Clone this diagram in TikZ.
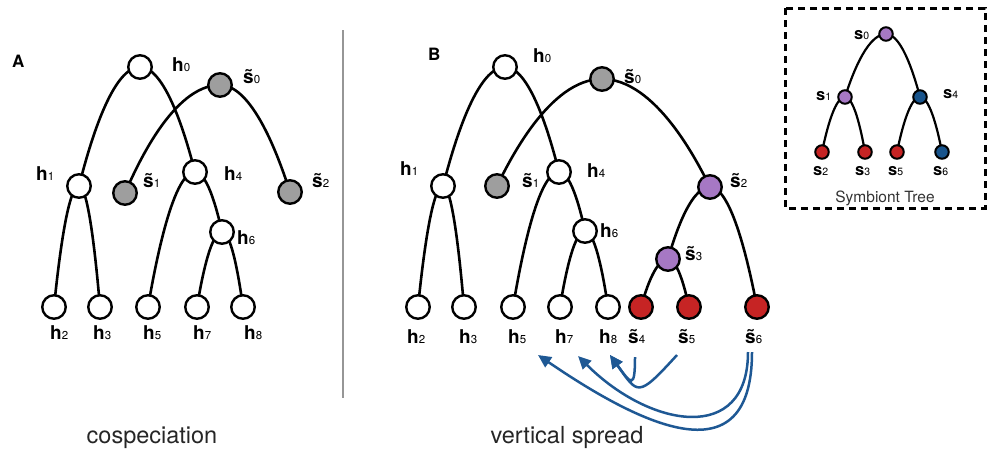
\documentclass[tikz,border=0pt]{standalone}
\usepackage{fontspec}
\setmainfont{TeX Gyre Heros}
\usetikzlibrary{arrows.meta,backgrounds}
\definecolor{nodegray}{RGB}{158,158,158}
\definecolor{sympurple}{RGB}{166,120,196}
\definecolor{symred}{RGB}{198,36,36}
\definecolor{symblue}{RGB}{24,84,140}
\definecolor{spreadblue}{RGB}{30,88,148}
\definecolor{rulegray}{RGB}{150,150,150}
\newcommand{\lbl}[2]{\textbf{#1}{\fontsize{11.5}{11.5}\selectfont #2}}
\newcommand{\tlbl}[2]{\textbf{\~{#1}}{\fontsize{11.5}{11.5}\selectfont #2}}
\newcommand{\ilbl}[2]{\textbf{#1}{\fontsize{10.5}{10.5}\selectfont #2}}

\begin{document}
\begin{tikzpicture}[x=1pt,y=-1pt,
		host/.style={circle,draw,line width=2.4pt,fill=white,minimum size=23.5pt,inner sep=0pt},
		sym/.style={host,fill=#1},
		tipnode/.style={circle,draw,line width=2pt,fill=#1,minimum size=13.5pt,inner sep=0pt},
		lab/.style={anchor=base west,inner sep=0pt,font=\fontsize{19}{19}\selectfont},
		ilab/.style={anchor=base west,inner sep=0pt,font=\fontsize{16.5}{16.5}\selectfont},
		caption/.style={inner sep=0pt,font=\fontsize{23.5}{23.5}\selectfont,text=black!85},
		branch/.style={line width=2.6pt},
		spread/.style={draw=spreadblue,line width=2.5pt,-{Triangle[length=13pt,width=12pt]}}]
	\useasboundingbox (0,0) rectangle (988,451);
	% panel A: cospeciation
	\node[lab,font=\fontsize{17}{17}\selectfont] (lA) at (12,67) {\textbf{A}};
	\node[host] (hA0) at (140,67) {};
	\node[host] (hA1) at (79,186) {};
	\node[host] (hA4) at (195,172) {};
	\node[host] (hA6) at (222,232) {};
	\foreach \n/\x in {2/54,3/100,5/148,7/197,8/243}
		\node[host] (hA\n) at (\x,307) {};
	\node[sym=nodegray] (sA0) at (220,85) {};
	\node[sym=nodegray] (sA1) at (125,193) {};
	\node[sym=nodegray] (sA2) at (290,192) {};
	\node[lab] (lhA0) at (172,71) {\lbl{h}{0}};
	\node[lab] (lhA1) at (36,180) {\lbl{h}{1}};
	\node[lab] (lhA4) at (224,180) {\lbl{h}{4}};
	\node[lab] (lhA6) at (237,244) {\lbl{h}{6}};
	\foreach \n/\x in {2/50,3/93,5/143,7/193,8/244}
		\node[lab] (lhA\n) at (\x,339) {\lbl{h}{\n}};
	\node[lab] (lsA0) at (243,83) {\tlbl{s}{0}};
	\node[lab] (lsA1) at (143,187) {\tlbl{s}{1}};
	\node[lab] (lsA2) at (312,187) {\tlbl{s}{2}};
	\begin{scope}[on background layer]
		\draw[branch] (hA1.center) parabola bend (hA0.center) (hA4.center)
			(hA2.center) parabola bend (hA1.center) (hA3.center)
			(hA5.center) parabola bend (hA4.center) (hA6.center)
			(hA7.center) parabola bend (hA6.center) (hA8.center)
			(sA1.center) parabola bend (sA0.center) (sA2.center);
	\end{scope}
	\node[caption,anchor=base] (capA) at (152,443) {cospeciation};

	\draw[rulegray,line width=2pt] (343,30) -- (343,398);

	% panel B: vertical spread
	\node[lab,font=\fontsize{17}{17}\selectfont] (lB) at (428,60) {\textbf{B}};
	\node[host] (hB0) at (505,67) {};
	\node[host] (hB1) at (443,186) {};
	\node[host] (hB4) at (559,172) {};
	\node[host] (hB6) at (585,231) {};
	\foreach \n/\x in {2/418,3/464,5/513,7/560,8/608}
		\node[host] (hB\n) at (\x,307) {};
	\node[sym=nodegray] (sB0) at (602,79) {};
	\node[sym=nodegray] (sB1) at (497,186) {};
	\node[sym=sympurple] (sB2) at (710,187) {};
	\node[sym=sympurple] (sB3) at (668,259) {};
	\foreach \n/\x in {4/641,5/689,6/757}
		\node[sym=symred] (sB\n) at (\x,307) {};
	\node[lab] (lhB0) at (533,62) {\lbl{h}{0}};
	\node[lab] (lhB1) at (400,175) {\lbl{h}{1}};
	\node[lab] (lhB4) at (587,177) {\lbl{h}{4}};
	\node[lab] (lhB6) at (600,237) {\lbl{h}{6}};
	\foreach \n/\x in {2/407,3/459,5/508,7/555,8/599}
		\node[lab] (lhB\n) at (\x,343) {\lbl{h}{\n}};
	\node[lab] (lsB0) at (624,83) {\tlbl{s}{0}};
	\node[lab] (lsB1) at (522,187) {\tlbl{s}{1}};
	\node[lab] (lsB2) at (730,187) {\tlbl{s}{2}};
	\node[lab] (lsB3) at (685,260) {\tlbl{s}{3}};
	\foreach \n/\x in {4/628,5/678,6/745}
		\node[lab] (lsB\n) at (\x,343) {\tlbl{s}{\n}};
	\begin{scope}[on background layer]
		\draw[branch] (hB1.center) parabola bend (hB0.center) (hB4.center)
			(hB2.center) parabola bend (hB1.center) (hB3.center)
			(hB5.center) parabola bend (hB4.center) (hB6.center)
			(hB7.center) parabola bend (hB6.center) (hB8.center)
			(sB1.center) parabola bend (sB0.center) (sB2.center)
			(sB3.center) parabola bend (sB2.center) (sB6.center)
			(sB4.center) parabola bend (sB3.center) (sB5.center);
	\end{scope}
	% transfers
	\draw[spread] ([shift={(7,14)}]lsB4.base west) .. controls +(0,33) and +(21,29) .. ([shift={(11,12)}]lhB8.base west);
	\draw[spread] ([shift={(-1,12)}]lsB5.base west) .. controls +(-40,44) and +(28,39) .. ([shift={(11,12)}]lhB8.base west);
	\draw[spread] ([shift={(3,9)}]lsB6.base west) .. controls +(0,93) and +(72,72) .. ([shift={(23,13)}]lhB7.base west);
	\draw[spread] ([shift={(7,9)}]lsB6.base west) .. controls +(0,126) and +(107,73) .. ([shift={(30,12)}]lhB5.base west);
	\node[caption,anchor=base] (capB) at (567,443) {vertical spread};

	% inset: symbiont tree
	\draw[dash pattern=on 7pt off 5pt,line width=3pt] (785,8) rectangle (985,208);
	\node[tipnode=sympurple] (t0) at (886,34) {};
	\node[tipnode=sympurple] (t1) at (845,97) {};
	\node[tipnode=symblue] (t4) at (920,97) {};
	\node[tipnode=symred] (t2) at (822,152) {};
	\node[tipnode=symred] (t3) at (865,152) {};
	\node[tipnode=symred] (t5) at (897,152) {};
	\node[tipnode=symblue] (t6) at (942,152) {};
	\node[ilab] (lt0) at (854,39) {\ilbl{s}{0}};
	\node[ilab] (lt1) at (816,100) {\ilbl{s}{1}};
	\node[ilab] (lt4) at (943,98) {\ilbl{s}{4}};
	\foreach \n/\x in {2/813,3/855,5/888,6/933}
		\node[ilab] (lt\n) at (\x,175) {\ilbl{s}{\n}};
	\begin{scope}[on background layer]
		\draw[line width=2.2pt] (t1.center) parabola bend (t0.center) (t4.center)
			(t2.center) parabola bend (t1.center) (t3.center)
			(t5.center) parabola bend (t4.center) (t6.center);
	\end{scope}
	\node[anchor=base,inner sep=0pt,font=\fontsize{15.5}{15.5}\selectfont,text=black!80] (title) at (885,202) {Symbiont Tree};
\end{tikzpicture}
\end{document}
